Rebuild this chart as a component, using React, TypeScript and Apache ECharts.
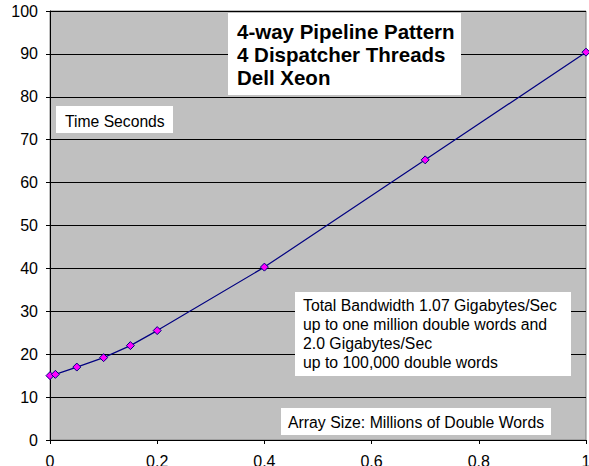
import React, { useEffect, useRef } from "react";
import * as echarts from "echarts";

const xValues = [0, 0.01, 0.05, 0.1, 0.15, 0.2, 0.4, 0.7, 1.0];
const timeSeconds = [15.0, 15.3, 17.0, 19.2, 22.0, 25.5, 40.3, 65.3, 90.4];
const titleLines = ["4-way Pipeline Pattern", "4 Dispatcher Threads", "Dell Xeon"];
const yAxisNote = "Time Seconds";
const bandwidthLines = [
  "Total Bandwidth 1.07 Gigabytes/Sec",
  "up to one million double words and",
  "2.0 Gigabytes/Sec",
  "up to 100,000 double words",
];
const xAxisNote = "Array Size: Millions of Double Words";

const FONT = '"Liberation Sans", Arial, sans-serif';

export default function App() {
  const ref = useRef<HTMLDivElement>(null);
  useEffect(() => {
    if (!ref.current) return;
    const chart = echarts.init(ref.current, undefined, { renderer: "svg" });
    chart.setOption({
      animation: false,
      backgroundColor: "#ffffff",
      grid: {
        left: 50,
        right: 3,
        top: 11,
        bottom: 26,
        containLabel: false,
        outerBoundsMode: "none",
        show: true,
        backgroundColor: "#c0c0c0",
        borderColor: "#808080",
        borderWidth: 1,
      },
      xAxis: {
        type: "value",
        min: 0,
        max: 1,
        interval: 0.2,
        axisLine: { show: true, onZero: false, lineStyle: { color: "#000", width: 1 } },
        axisTick: { show: true, length: 4, lineStyle: { color: "#000" } },
        axisLabel: {
          color: "#000",
          fontSize: 16,
          fontFamily: FONT,
          margin: 13,
          formatter: (v: number) => String(Math.round(v * 10) / 10),
        },
        splitLine: { show: false },
      },
      yAxis: {
        type: "value",
        min: 0,
        max: 100,
        interval: 10,
        axisLine: { show: true, lineStyle: { color: "#000", width: 1 } },
        axisTick: { show: true, length: 4, lineStyle: { color: "#000" } },
        axisLabel: { color: "#000", fontSize: 16, fontFamily: FONT, margin: 12 },
        splitLine: { show: true, lineStyle: { color: "#000", width: 1 } },
      },
      series: [
        {
          type: "line",
          data: xValues.map((x, i) => [x, timeSeconds[i]]),
          lineStyle: { color: "#000080", width: 1.2 },
          symbol: "diamond",
          symbolSize: 8,
          itemStyle: { color: "#ff00ff", borderColor: "#000080", borderWidth: 1 },
          z: 5,
        },
      ],
      graphic: [
        { type: "rect", shape: { x: 228, y: 13, width: 233, height: 82 }, style: { fill: "#fff" }, z: 10 },
        {
          type: "text",
          x: 237,
          y: 20,
          style: {
            text: titleLines.join("\n"),
            font: `bold 20.5px ${FONT}`,
            lineHeight: 23,
            fill: "#000",
            verticalAlign: "top",
          },
          z: 11,
        },
        { type: "rect", shape: { x: 56, y: 106, width: 117, height: 27 }, style: { fill: "#fff" }, z: 10 },
        {
          type: "text",
          x: 65,
          y: 121,
          style: { text: yAxisNote, font: `15.7px ${FONT}`, fill: "#000", verticalAlign: "middle" },
          z: 11,
        },
        { type: "rect", shape: { x: 295, y: 292, width: 276, height: 84 }, style: { fill: "#fff" }, z: 10 },
        {
          type: "text",
          x: 303,
          y: 296,
          style: {
            text: bandwidthLines.join("\n"),
            font: `15.8px ${FONT}`,
            lineHeight: 19,
            fill: "#000",
            verticalAlign: "top",
          },
          z: 11,
        },
        { type: "rect", shape: { x: 281, y: 408, width: 270, height: 27 }, style: { fill: "#fff" }, z: 10 },
        {
          type: "text",
          x: 288,
          y: 422,
          style: { text: xAxisNote, font: `15.8px ${FONT}`, fill: "#000", verticalAlign: "middle" },
          z: 11,
        },
      ],
    });
    return () => chart.dispose();
  }, []);
  return (
    <div
      ref={ref}
      style={{ position: "fixed", left: 0, top: 0, width: 589, height: 466 }}
    />
  );
}
